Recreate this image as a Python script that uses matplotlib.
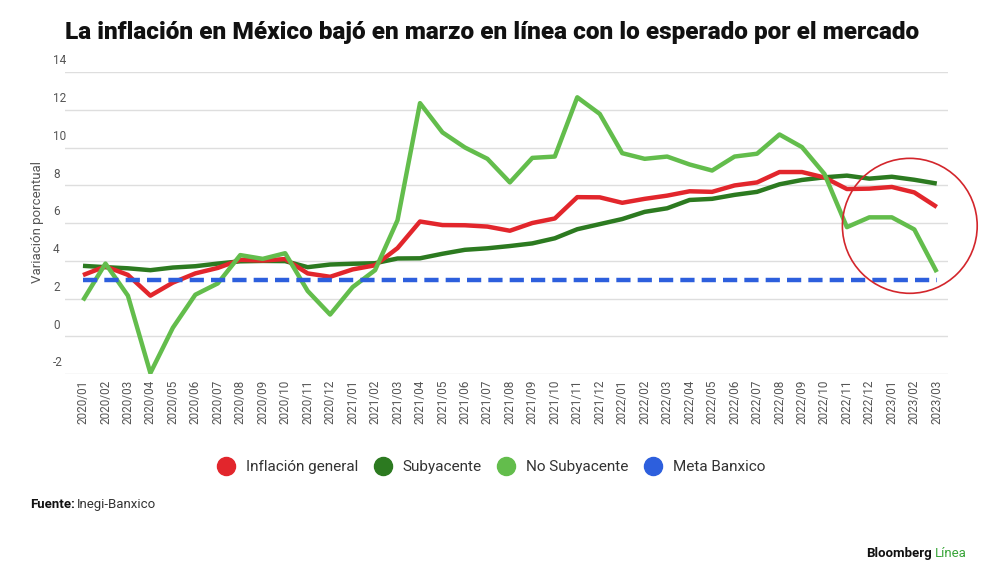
import matplotlib
matplotlib.use("Agg")
import matplotlib.pyplot as plt
from matplotlib.lines import Line2D
from matplotlib.patches import Ellipse
import matplotlib.transforms as mtransforms

plt.rcParams['font.family'] = ['Roboto', 'DejaVu Sans']

months = ['2020/01', '2020/02', '2020/03', '2020/04', '2020/05', '2020/06', '2020/07',
          '2020/08', '2020/09', '2020/10', '2020/11', '2020/12',
          '2021/01', '2021/02', '2021/03', '2021/04', '2021/05', '2021/06', '2021/07',
          '2021/08', '2021/09', '2021/10', '2021/11', '2021/12',
          '2022/01', '2022/02', '2022/03', '2022/04', '2022/05', '2022/06', '2022/07',
          '2022/08', '2022/09', '2022/10', '2022/11', '2022/12',
          '2023/01', '2023/02', '2023/03']

general = [3.24, 3.70, 3.25, 2.15, 2.84, 3.33, 3.62, 4.05, 4.01, 4.09, 3.33, 3.15,
           3.54, 3.76, 4.67, 6.08, 5.89, 5.88, 5.81, 5.59, 6.00, 6.24, 7.37, 7.36,
           7.07, 7.28, 7.45, 7.68, 7.65, 7.99, 8.15, 8.70, 8.70, 8.41, 7.80, 7.82,
           7.91, 7.62, 6.85]

subyacente = [3.73, 3.66, 3.60, 3.50, 3.64, 3.71, 3.85, 3.97, 3.99, 3.98, 3.66, 3.80,
              3.84, 3.87, 4.12, 4.13, 4.37, 4.58, 4.66, 4.78, 4.92, 5.19, 5.67, 5.94,
              6.21, 6.59, 6.78, 7.22, 7.28, 7.49, 7.65, 8.05, 8.28, 8.42, 8.51, 8.35,
              8.45, 8.29, 8.09]

no_subyacente = [1.90, 3.85, 2.15, -1.95, 0.45, 2.20, 2.80, 4.30, 4.10, 4.40, 2.40, 1.15,
                 2.60, 3.50, 6.15, 12.35, 10.80, 10.00, 9.40, 8.15, 9.45, 9.52, 12.66, 11.78,
                 9.70, 9.40, 9.52, 9.10, 8.78, 9.52, 9.67, 10.69, 10.02, 8.60, 5.78, 6.30,
                 6.30, 5.66, 3.40]

meta = [3.0] * len(months)

yticks = [-2, 0, 2, 4, 6, 8, 10, 12, 14]

c_red = '#e2262c'
c_dark = '#2c7a20'
c_light = '#63bd4c'
c_blue = '#2d5fdd'
c_tick = '#555555'

fig = plt.figure(figsize=(10, 5.87), dpi=100)
ax = fig.add_axes([0.065, 1 - 374 / 587, 0.883, (374 - 72) / 587])

x = list(range(len(months)))
ax.plot(x, subyacente, color=c_dark, lw=3.2, zorder=3, solid_capstyle='butt')
ax.plot(x, general, color=c_red, lw=3.2, zorder=4, solid_capstyle='butt')
ax.plot(x, no_subyacente, color=c_light, lw=3.2, zorder=5, solid_capstyle='butt')
ax.plot(x, meta, color=c_blue, lw=3.2, ls=(0, (3.2, 1.6)), zorder=6)

# circle highlighting the last months
ax.add_patch(Ellipse((36.8, 5.85), width=6.0, height=7.15, fill=False,
                     edgecolor='#d3262c', lw=1.2, zorder=7, clip_on=False))

ax.set_xlim(-0.8, 38.5)
ax.set_ylim(-2, 14)
ax.set_yticks(yticks)
ax.yaxis.grid(True, color='#dedede', lw=1.0)
ax.set_axisbelow(True)
ax.tick_params(axis='y', length=0, labelleft=False)
trans = mtransforms.blended_transform_factory(fig.transFigure, ax.transData)
for v in yticks:
    ax.text(0.053, v + 0.25, str(v), transform=trans, fontsize=8.5, color=c_tick,
            ha='left', va='bottom')

ax.set_xticks(x)
ax.set_xticklabels(months, rotation=90, fontsize=8.5, color=c_tick)
ax.tick_params(axis='x', length=0, pad=4)
for s in ax.spines.values():
    s.set_visible(False)

fig.text(0.038, 1 - 222 / 587, 'Variación porcentual', rotation=90, fontsize=9.5,
         color=c_tick, ha='center', va='center')

fig.text(0.4925, 1 - 32 / 587,
         'La inflación en México bajó en marzo en línea con lo esperado por el mercado',
         fontsize=17.6, fontweight='heavy', ha='center', va='center', color='#111111')

handles = [Line2D([], [], marker='o', ls='', markersize=13, color=c) for c in
           (c_red, c_dark, c_light, c_blue)]
labels = ['Inflación general', 'Subyacente', 'No Subyacente', 'Meta Banxico']
fig.legend(handles, labels, loc='center', bbox_to_anchor=(0.488, 1 - 467 / 587), ncol=4,
           frameon=False, fontsize=11, handletextpad=0.3, columnspacing=0.6,
           labelcolor='#333333')

fig.text(0.03, 1 - 508 / 587, 'Fuente:', fontsize=9.5, fontweight='bold', va='baseline',
         color='#111111')
fig.text(0.077, 1 - 508 / 587, 'Inegi-Banxico', fontsize=9.5, va='baseline', color='#333333')

fig.text(0.932, 1 - 557 / 587, 'Bloomberg', fontsize=9.5, fontweight='bold',
         ha='right', va='baseline', color='#111111')
fig.text(0.935, 1 - 557 / 587, 'Línea', fontsize=9.5, ha='left', va='baseline',
         color='#3aa53a')

fig.savefig('out.png', dpi=100, facecolor='white')
